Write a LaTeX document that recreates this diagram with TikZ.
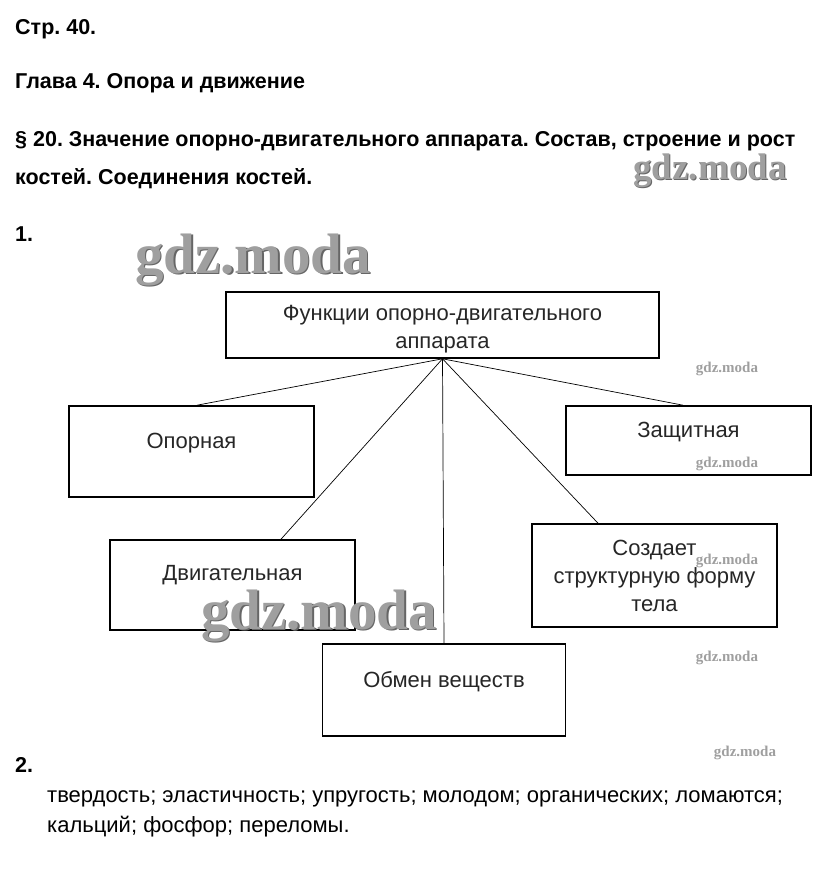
\documentclass[tikz,border=0pt]{standalone}
\usepackage{fontspec}
\setmainfont{Liberation Sans}
\newfontfamily\wmfont{Liberation Serif}
\usetikzlibrary{positioning}
\frenchspacing

\begin{document}
\begin{tikzpicture}[x=1pt, y=-1pt, font=\fontsize{22}{28}\selectfont,
  box/.style={draw, line width=1.6pt, minimum width=245pt, inner sep=0pt, align=center, text=black!85},
  lbl/.style={text=black!85, align=center, inner sep=0pt},
  head/.style={anchor=base west, inner sep=0pt, font=\fontsize{21.5}{22}\selectfont\bfseries},
  body/.style={anchor=base west, inner sep=0pt, font=\fontsize{22}{22}\selectfont},
  wm/.style={text=gray!75, font=\wmfont\bfseries, inner sep=0pt, anchor=base,
    text height=0.68em, text depth=0.2em},
  wmshade/.style={wm, text=black!60},
  link/.style={line width=0.7pt}]
  \useasboundingbox (0,0) rectangle (828,882);

  % headings
  \node[head] (page) at (15,35) {Стр. 40.};
  \node[head] (chap) at (15,89) {Глава 4. Опора и движение};
  \node[head] (par1) at (15,147) {§ 20. Значение опорно-двигательного аппарата. Состав, строение и рост};
  \node[head] (par2) at (15,185) {костей. Соединения костей.};
  \node[head] (q1) at (15,242) {1.};

  % watermarks behind the scheme
  \node[wmshade, font=\wmfont\bfseries\fontsize{37}{37}\selectfont] (wm1s) at (711,181) {gdz.moda};
  \node[wm, font=\wmfont\bfseries\fontsize{37}{37}\selectfont] (wm1) at (710,180) {gdz.moda};
  \node[wmshade, font=\wmfont\bfseries\fontsize{57}{57}\selectfont] (wm2s) at (254.5,274.5) {gdz.moda};
  \node[wm, font=\wmfont\bfseries\fontsize{57}{57}\selectfont] (wm2) at (253,273) {gdz.moda};

  % scheme
  \node[box, minimum width=433pt, minimum height=66pt,
    label={[lbl, yshift=-4pt]center:Функции опорно-двигательного\\аппарата}] (root) at (442.5,325) {};
  \node[box, minimum height=91pt, label={[lbl, yshift=8.5pt]center:Опорная}] (opor) at (191.5,451.5) {};
  \node[box, minimum height=69pt, label={[lbl, yshift=8.5pt]center:Защитная}] (zasch) at (688.5,440.5) {};
  \node[box, minimum height=90pt, label={[lbl, yshift=9.5pt]center:Двигательная}] (dvig) at (232.5,585) {};
  \node[box, minimum height=103pt] (sozd) at (654.5,575.5)
    {Создает\\структурную форму\\тела};
  \node[box, minimum width=243pt, minimum height=92pt, label={[lbl, yshift=8pt]center:Обмен веществ}] (obmen) at (444,690) {};

  \draw[link] (root.south) -- ([xshift=5.5pt]opor.north);
  \draw[link] (root.south) -- ([xshift=-5.5pt]zasch.north);
  \draw[link] (root.south) -- ([xshift=48.5pt]dvig.north);
  \draw[link] (root.south) -- ([xshift=-56.5pt]sozd.north);
  \draw[link] (root.south) -- (obmen.north);

  % answer 2
  \node[head] (q2) at (15,772) {2.};
  \node[body] (ans1) at (47,802) {твердость; эластичность; упругость; молодом; органических; ломаются;};
  \node[body] (ans2) at (47,832) {кальций; фосфор; переломы.};

  % watermarks over the scheme
  \node[wmshade, font=\wmfont\bfseries\fontsize{57}{57}\selectfont] (wm3s) at (320.5,630.5) {gdz.moda};
  \node[wm, font=\wmfont\bfseries\fontsize{57}{57}\selectfont] (wm3) at (319,629) {gdz.moda};
  \foreach \wy [count=\i] in {372,467,564,661} {
    \node[wm, font=\wmfont\bfseries\fontsize{15}{15}\selectfont] (wms\i) at (727,\wy) {gdz.moda};
  }
  \node[wm, font=\wmfont\bfseries\fontsize{15}{15}\selectfont] (wms5) at (745,756) {gdz.moda};
\end{tikzpicture}
\end{document}
